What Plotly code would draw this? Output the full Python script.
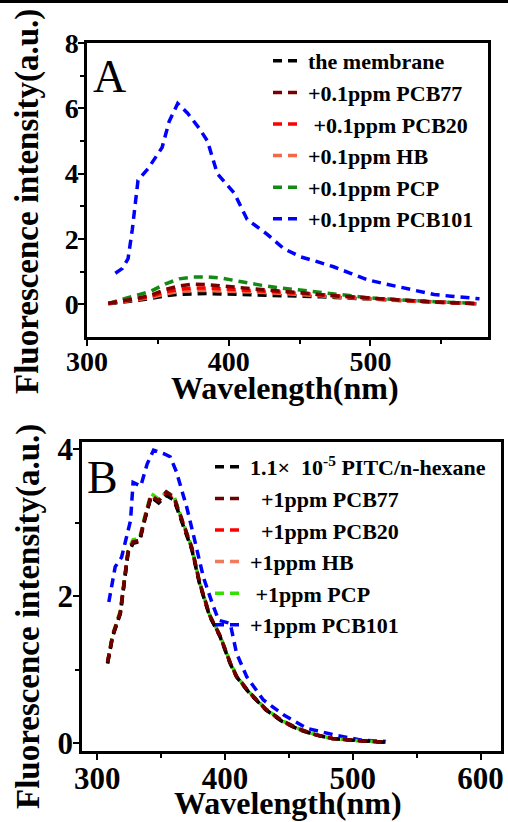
import plotly.graph_objects as go

W, H = 508, 822

# ---------------- Panel A data ----------------
xa = [315, 325, 335, 345, 355, 365, 375, 385, 395, 405, 415, 425, 435, 445,
      455, 465, 475, 485, 495, 505, 515, 525, 535, 545, 555, 565, 575]
a_membrane = [0.02, 0.06, 0.12, 0.18, 0.26, 0.31, 0.33, 0.33, 0.32, 0.31, 0.30, 0.29, 0.28, 0.27,
              0.25, 0.23, 0.21, 0.19, 0.16, 0.14, 0.12, 0.10, 0.08, 0.06, 0.04, 0.03, 0.02]
a_pcb77 = [0.03, 0.10, 0.18, 0.28, 0.45, 0.56, 0.62, 0.60, 0.56, 0.52, 0.48, 0.45, 0.42, 0.38,
           0.34, 0.30, 0.26, 0.23, 0.20, 0.17, 0.14, 0.11, 0.09, 0.07, 0.05, 0.03, 0.02]
a_pcb20 = [0.03, 0.09, 0.16, 0.24, 0.38, 0.46, 0.50, 0.50, 0.48, 0.45, 0.42, 0.40, 0.38, 0.35,
           0.32, 0.28, 0.25, 0.22, 0.19, 0.16, 0.13, 0.11, 0.09, 0.07, 0.05, 0.03, 0.02]
a_hb = [0.03, 0.08, 0.14, 0.21, 0.32, 0.39, 0.42, 0.42, 0.41, 0.39, 0.37, 0.36, 0.34, 0.32,
        0.29, 0.26, 0.23, 0.20, 0.17, 0.15, 0.12, 0.10, 0.08, 0.06, 0.05, 0.03, 0.02]
a_pcp = [0.03, 0.15, 0.27, 0.40, 0.62, 0.78, 0.84, 0.84, 0.80, 0.72, 0.64, 0.57, 0.51, 0.46,
         0.41, 0.35, 0.30, 0.26, 0.22, 0.18, 0.15, 0.12, 0.10, 0.08, 0.06, 0.04, 0.03]
xa_blue = [320, 325, 329, 332, 336, 343, 353, 358, 364, 371, 379, 385, 392, 404, 413,
           427, 439, 451, 463, 474, 486, 498, 510, 521, 533, 545, 557, 567, 577]
a_pcb101 = [0.95, 1.1, 1.4, 2.3, 3.8, 4.15, 4.8, 5.6, 6.15, 5.85, 5.4, 5.0, 4.0, 3.4, 2.6,
            2.15, 1.7, 1.45, 1.3, 1.15, 0.95, 0.75, 0.63, 0.53, 0.42, 0.3, 0.25, 0.2, 0.17]

# ---------------- Panel B data ----------------
xb = [308, 312, 318, 324, 328, 333, 337, 342, 348, 354, 360, 366, 374, 380, 388, 396,
      404, 409, 419, 432, 445, 458, 471, 484, 495, 505, 515, 526]
b_pitc = [1.08, 1.45, 1.76, 2.58, 2.72, 2.74, 3.03, 3.35, 3.27, 3.37, 3.31, 3.03, 2.63, 2.17,
          1.72, 1.45, 1.08, 0.90, 0.68, 0.45, 0.29, 0.18, 0.11, 0.06, 0.04, 0.03, 0.02, 0.01]
b_pcb77 = [1.10, 1.47, 1.78, 2.60, 2.74, 2.76, 3.05, 3.37, 3.30, 3.42, 3.35, 3.06, 2.66, 2.19,
           1.74, 1.46, 1.09, 0.91, 0.69, 0.46, 0.30, 0.19, 0.11, 0.06, 0.04, 0.03, 0.02, 0.01]
b_pcb20 = [1.09, 1.46, 1.77, 2.59, 2.73, 2.75, 3.04, 3.36, 3.28, 3.39, 3.33, 3.05, 2.65, 2.18,
           1.73, 1.46, 1.09, 0.90, 0.68, 0.45, 0.29, 0.18, 0.11, 0.06, 0.04, 0.03, 0.02, 0.01]
b_hb = [1.09, 1.46, 1.77, 2.60, 2.74, 2.76, 3.05, 3.37, 3.29, 3.40, 3.33, 3.05, 2.65, 2.18,
        1.73, 1.46, 1.09, 0.90, 0.68, 0.45, 0.29, 0.18, 0.11, 0.06, 0.04, 0.03, 0.02, 0.01]
b_pcp = [1.10, 1.48, 1.80, 2.62, 2.77, 2.78, 3.08, 3.40, 3.32, 3.42, 3.36, 3.07, 2.66, 2.19,
         1.74, 1.47, 1.10, 0.91, 0.69, 0.46, 0.30, 0.19, 0.11, 0.06, 0.04, 0.03, 0.02, 0.01]
xb_blue = [309, 314, 319, 326, 328, 334, 339, 344, 352, 357, 362, 370, 375, 383, 390,
           395, 404, 409, 417, 430, 446, 464, 485, 506, 526]
b_pcb101 = [1.92, 2.40, 2.53, 3.03, 3.55, 3.50, 3.80, 3.99, 3.94, 3.90, 3.69, 3.21, 2.85,
            2.26, 1.90, 1.67, 1.63, 1.22, 0.90, 0.585, 0.38, 0.20, 0.11, 0.04, 0.02]

names_a = ["the membrane", "+0.1ppm PCB77", " +0.1ppm PCB20", "+0.1ppm HB",
           "+0.1ppm PCP", "+0.1ppm PCB101"]
names_b = ["1.1×  10<sup>-5</sup> PITC/n-hexane", "  +1ppm PCB77", "  +1ppm PCB20",
           "+1ppm HB", " +1ppm PCP", "+1ppm PCB101"]

colors_a = ["#000000", "#7a0000", "#ff0000", "#f26a45", "#138a13", "#0000ff"]
colors_b = ["#000000", "#6e0000", "#ff0000", "#f07a5a", "#33e000", "#0000ff"]

FONT = "Liberation Serif"
DASH = "9px,6px"
LW = 3.5

fig = go.Figure()

series_a = [(xa, a_membrane), (xa, a_pcb77), (xa, a_pcb20), (xa, a_hb), (xa, a_pcp),
            (xa_blue, a_pcb101)]
series_b = [(xb, b_pitc), (xb, b_pcb77), (xb, b_pcb20), (xb, b_hb), (xb, b_pcp),
            (xb_blue, b_pcb101)]

draw_order_a = [5, 4, 0, 3, 2, 1]
draw_order_b = [5, 4, 3, 2, 0, 1]

for i in draw_order_a:
    x, y = series_a[i]
    fig.add_trace(go.Scatter(x=x, y=y, mode="lines", name=names_a[i],
                             line=dict(color=colors_a[i], width=LW, dash=DASH),
                             xaxis="x", yaxis="y", legend="legend",
                             legendrank=i + 1, legendgroup="a%d" % i))
for i in draw_order_b:
    x, y = series_b[i]
    fig.add_trace(go.Scatter(x=x, y=y, mode="lines", name=names_b[i],
                             line=dict(color=colors_b[i], width=LW, dash=DASH),
                             xaxis="x2", yaxis="y2", legend="legend2",
                             legendrank=i + 1, legendgroup="b%d" % i))

def px_x(p):
    return p / W

def px_y(p):
    return 1 - p / H

def axis_common(size, standoff):
    return dict(showline=True, linecolor="black", linewidth=2.5, mirror=True,
                ticks="outside", ticklen=6, tickwidth=2, tickcolor="black",
                showgrid=False, zeroline=False, automargin=False,
                ticklabelstandoff=standoff,
                tickfont=dict(family=FONT, size=size, color="black", weight="bold"))

minor = dict(ticks="outside", ticklen=4, tickwidth=2, tickcolor="black")

fig.update_layout(
    width=W, height=H, margin=dict(l=0, r=0, t=0, b=0, autoexpand=False),
    paper_bgcolor="white", plot_bgcolor="white",
    xaxis=dict(domain=[px_x(87), px_x(488)], range=[300, 583], anchor="y",
               tickvals=[300, 400, 500], minor=dict(tickvals=[350, 450, 550], **minor),
               **axis_common(28, -8)),
    yaxis=dict(domain=[px_y(337), px_y(43)], range=[-1, 8], anchor="x",
               tickvals=[0, 2, 4, 6, 8], minor=dict(tickvals=[1, 3, 5, 7], **minor),
               **axis_common(28, -6)),
    xaxis2=dict(domain=[px_x(82), px_x(501)], range=[288, 616], anchor="y2",
                tickvals=[300, 400, 500, 600], minor=dict(tickvals=[350, 450, 550], **minor),
                **axis_common(31, -8)),
    yaxis2=dict(domain=[px_y(751), px_y(442)], range=[-0.11, 4.1], anchor="x2",
                tickvals=[0, 2, 4], minor=dict(tickvals=[1, 3], **minor),
                **axis_common(31, -6)),
    legend=dict(x=px_x(268), y=px_y(40), xanchor="left", yanchor="top",
                bgcolor="rgba(0,0,0,0)", borderwidth=0, tracegroupgap=0,
                font=dict(family=FONT, size=22, color="black", weight="bold"),
                itemwidth=30),
    legend2=dict(x=px_x(210), y=px_y(446), xanchor="left", yanchor="top",
                 bgcolor="rgba(0,0,0,0)", borderwidth=0, tracegroupgap=0,
                 font=dict(family=FONT, size=22, color="black", weight="bold"),
                 itemwidth=30),
    showlegend=True,
)

title_font_y = dict(family=FONT, size=33, color="black", weight="bold")
title_font_x = dict(family=FONT, size=32, color="black", weight="bold")
annots = [
    dict(text="Fluorescence intensity(a.u.)", x=px_x(27), y=px_y(202), textangle=-90,
         font=title_font_y),
    dict(text="Wavelength(nm)", x=px_x(285), y=px_y(388), font=title_font_x),
    dict(text="Fluorescence intensity(a.u.)", x=px_x(28), y=px_y(617), textangle=-90,
         font=title_font_y),
    dict(text="Wavelength(nm)", x=px_x(288), y=px_y(803), font=title_font_x),
    dict(text="A", x=px_x(109), y=px_y(76), font=dict(family=FONT, size=46, color="black")),
    dict(text="B", x=px_x(102), y=px_y(477), font=dict(family=FONT, size=46, color="black")),
]
for a in annots:
    fig.add_annotation(xref="paper", yref="paper", showarrow=False,
                       xanchor="center", yanchor="middle", **a)

fig.add_shape(type="rect", xref="paper", yref="paper", x0=0, x1=1, y0=px_y(3), y1=1,
              fillcolor="black", line=dict(width=0))

fig.write_html("out.html", config={"displayModeBar": False},
               post_script="document.body.style.margin='0px';")
